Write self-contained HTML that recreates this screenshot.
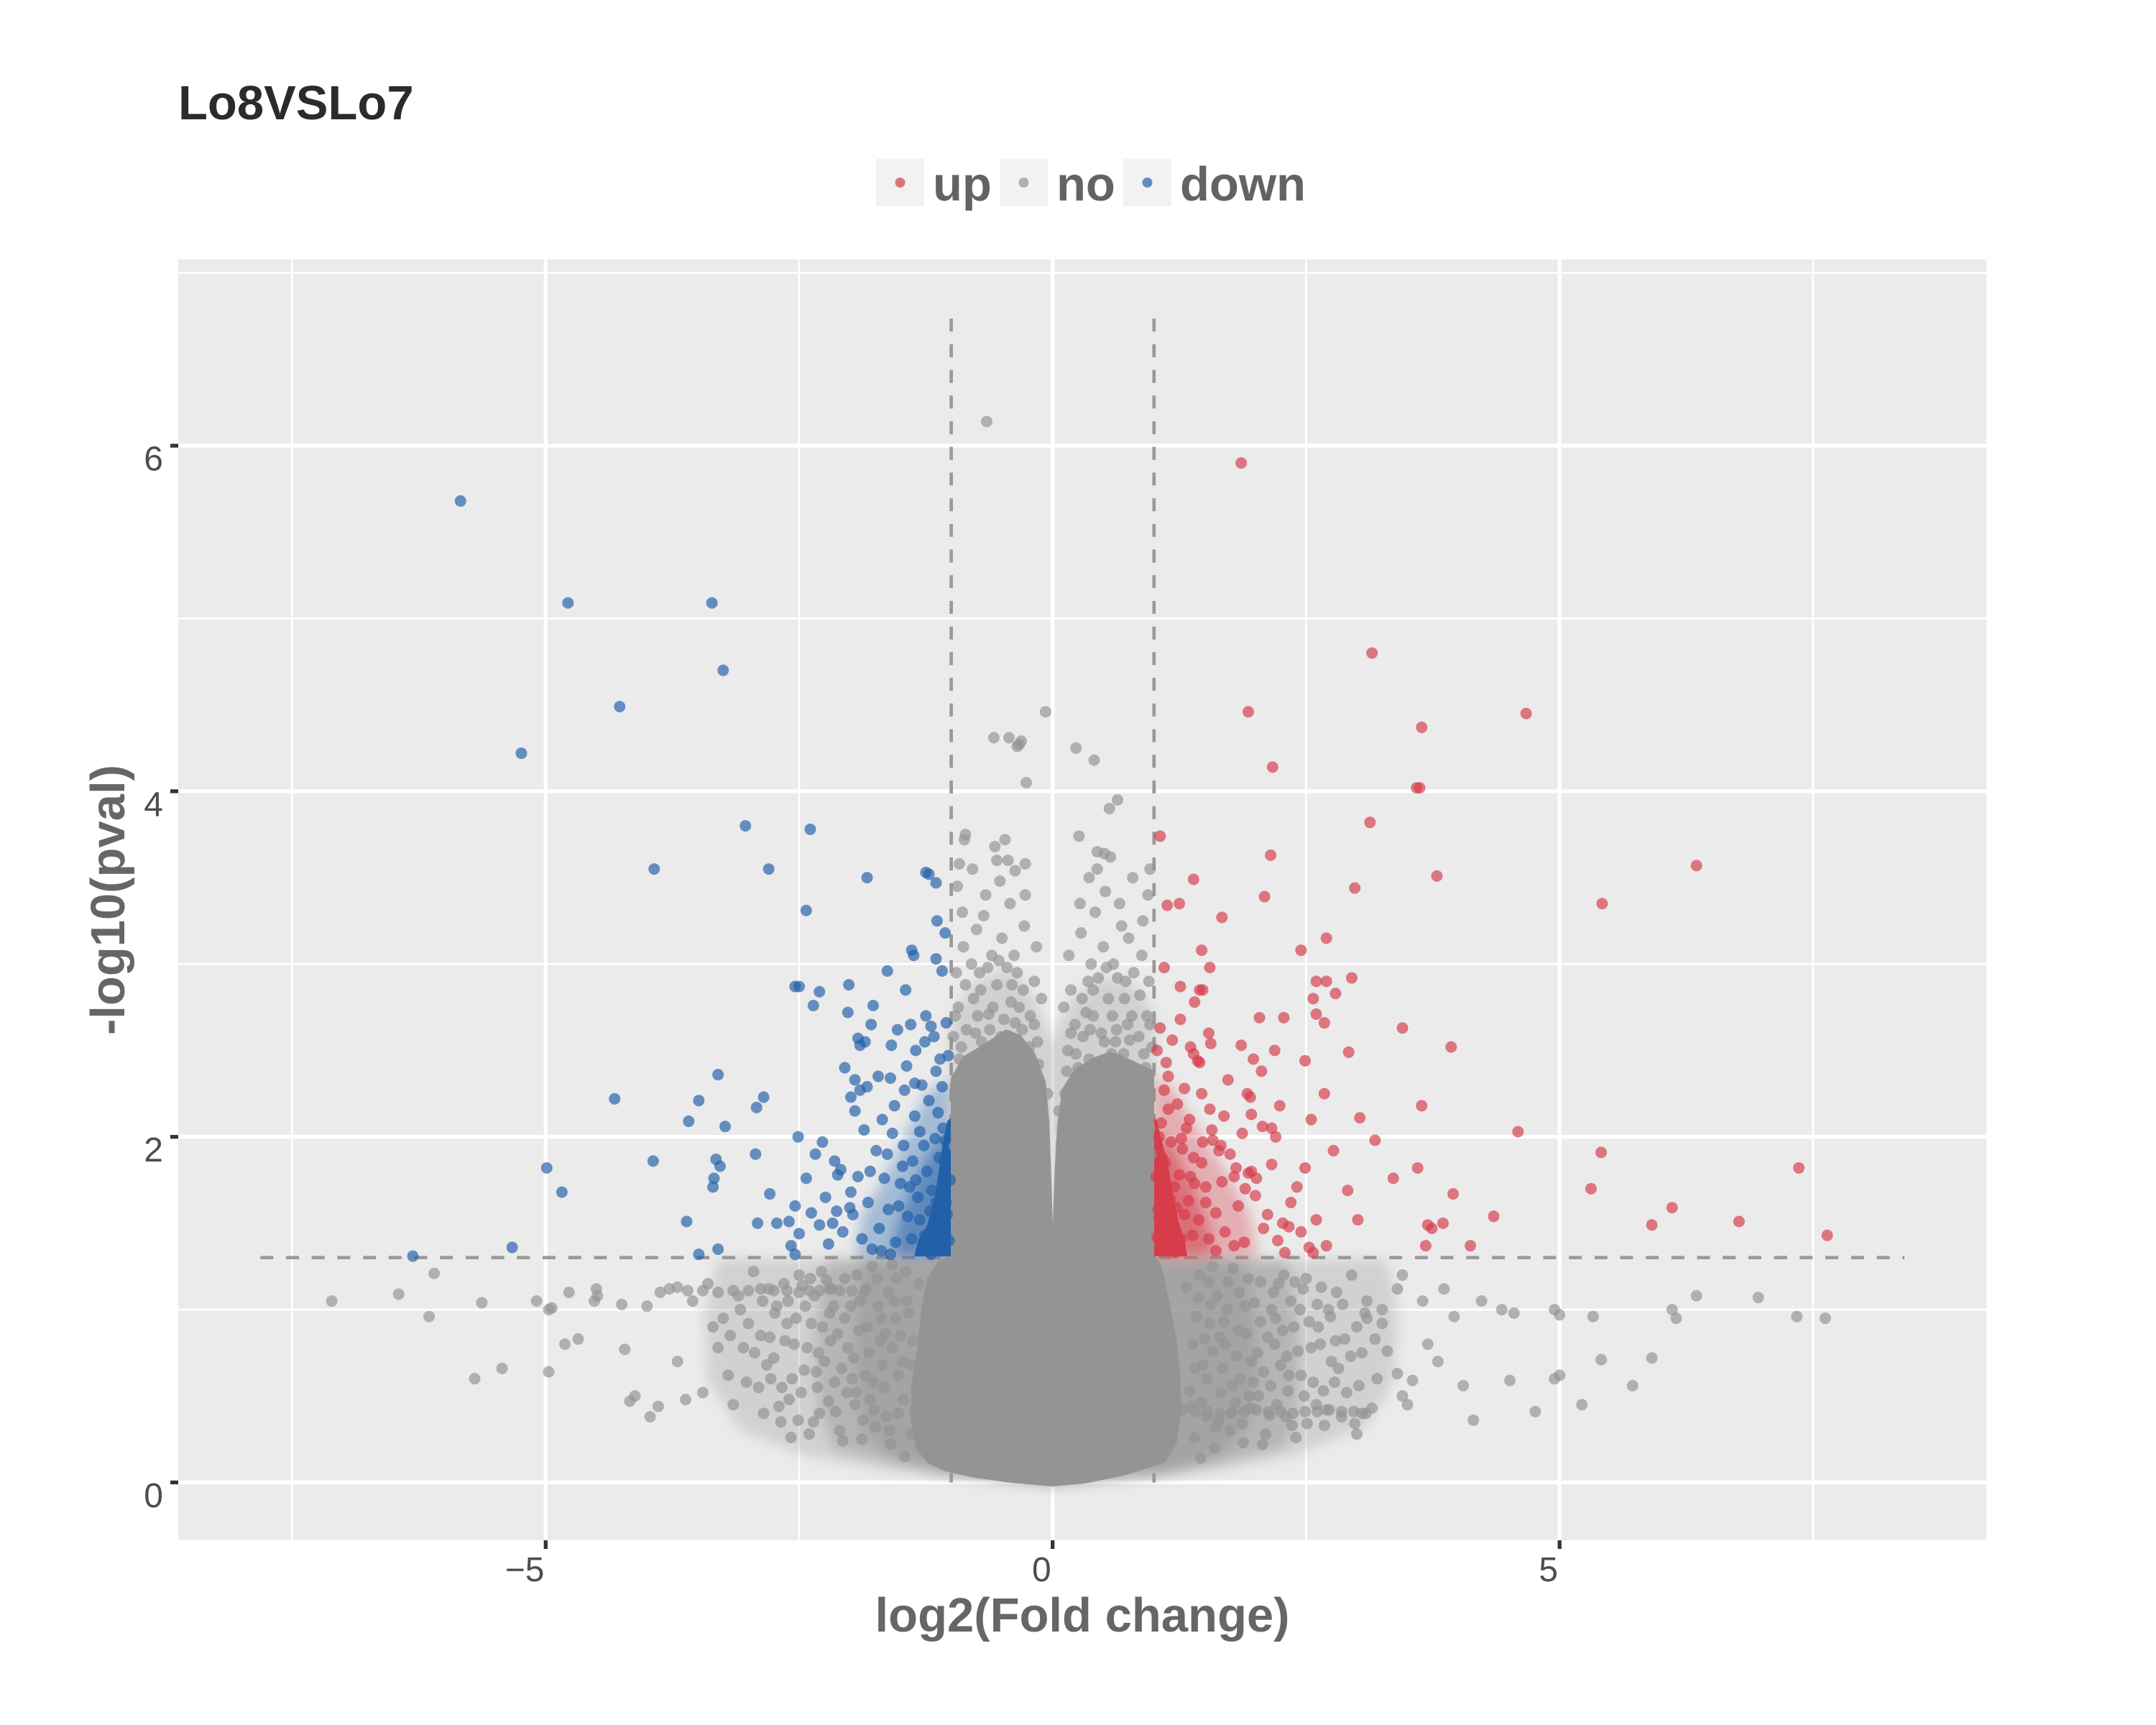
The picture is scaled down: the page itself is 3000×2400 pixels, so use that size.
<!DOCTYPE html>
<html>
<head>
<meta charset="utf-8">
<style>
html,body{margin:0;padding:0;background:#ffffff;}
svg{display:block;font-family:"Liberation Sans",Arial,Helvetica,sans-serif;}
</style>
</head>
<body>
<svg xmlns="http://www.w3.org/2000/svg" xmlns:xlink="http://www.w3.org/1999/xlink" width="3000" height="2400" viewBox="0 0 3000 2400">
<defs>
  <ellipse id="p" cx="0" cy="0" rx="0.0567" ry="0.0333"/>
  <filter id="bl" x="-20%" y="-20%" width="140%" height="140%"><feGaussianBlur stdDeviation="9"/></filter>
</defs>
<rect x="0" y="0" width="3000" height="2400" fill="#ffffff"/>

<!-- Title -->
<text x="248" y="166" font-size="67" font-weight="bold" fill="#2b2b2b">Lo8VSLo7</text>

<!-- Legend -->
<g>
  <rect x="1219" y="221" width="67" height="66" fill="#f2f2f2"/>
  <rect x="1391" y="221" width="67" height="66" fill="#f2f2f2"/>
  <rect x="1563" y="221" width="67" height="66" fill="#f2f2f2"/>
  <circle cx="1252.5" cy="254" r="7" fill="#d63c4a" fill-opacity=".7"/>
  <circle cx="1424.5" cy="254" r="7" fill="#949494" fill-opacity=".7"/>
  <circle cx="1596.5" cy="254" r="7" fill="#2360aa" fill-opacity=".7"/>
  <text x="1298" y="279" font-size="67" font-weight="bold" fill="#636363">up</text>
  <text x="1470" y="279" font-size="67" font-weight="bold" fill="#636363">no</text>
  <text x="1642" y="279" font-size="67" font-weight="bold" fill="#636363">down</text>
</g>

<!-- Panel -->
<rect x="248" y="361" width="2516" height="1782" fill="#ebebeb"/>

<!-- Minor gridlines -->
<g stroke="#ffffff" stroke-width="2.7">
  <line x1="406.6" y1="361" x2="406.6" y2="2143"/>
  <line x1="1112" y1="361" x2="1112" y2="2143"/>
  <line x1="1817.4" y1="361" x2="1817.4" y2="2143"/>
  <line x1="2522.8" y1="361" x2="2522.8" y2="2143"/>
  <line x1="248" y1="1822.1" x2="2764" y2="1822.1"/>
  <line x1="248" y1="1341.3" x2="2764" y2="1341.3"/>
  <line x1="248" y1="860.5" x2="2764" y2="860.5"/>
  <line x1="248" y1="379.7" x2="2764" y2="379.7"/>
</g>
<!-- Major gridlines -->
<g stroke="#ffffff" stroke-width="5.3">
  <line x1="759.3" y1="361" x2="759.3" y2="2143"/>
  <line x1="1464.7" y1="361" x2="1464.7" y2="2143"/>
  <line x1="2170.1" y1="361" x2="2170.1" y2="2143"/>
  <line x1="248" y1="2062.5" x2="2764" y2="2062.5"/>
  <line x1="248" y1="1581.7" x2="2764" y2="1581.7"/>
  <line x1="248" y1="1100.9" x2="2764" y2="1100.9"/>
  <line x1="248" y1="620.1" x2="2764" y2="620.1"/>
</g>

<!-- Dashed threshold lines -->
<g stroke="#999999" stroke-width="4.7" stroke-dasharray="18 17.7" fill="none">
  <line x1="1323.6" y1="443.3" x2="1323.6" y2="2062.5"/>
  <line x1="1605.8" y1="443.3" x2="1605.8" y2="2062.5"/>
  <line x1="362.3" y1="1749.7" x2="2650" y2="1749.7"/>
</g>

<!-- Haze (density of overlapping points) -->
<g filter="url(#bl)">
<polygon fill="#949494" fill-opacity="0.3" points="999,1752 1930,1752 1945,1830 1940,1920 1900,1985 1800,2025 1700,2045 1464,2066 1230,2045 1120,2025 1030,1990 985,1920 980,1830"/>
<polygon fill="#949494" fill-opacity="0.45" points="1150,1752 1790,1752 1800,1800 1808,1880 1805,1960 1790,2012 1700,2035 1620,2052 1464,2066 1310,2050 1230,2032 1160,2015 1140,1960 1135,1880 1140,1800"/>
<polygon fill="#949494" fill-opacity="0.5" points="1200,1752 1730,1752 1745,1820 1750,1900 1740,1975 1700,2025 1620,2050 1464,2066 1310,2050 1240,2028 1200,1990 1188,1900 1190,1820"/>
<polygon fill="#949494" fill-opacity="0.3" points="1323,1745 1323,1420 1350,1370 1405,1345 1440,1390 1464,1450 1490,1390 1530,1360 1580,1370 1606,1410 1606,1745"/>
<polygon fill="#2360aa" fill-opacity="0.35" points="1323,1750 1190,1750 1200,1690 1230,1640 1260,1580 1290,1520 1323,1500"/>
<polygon fill="#2360aa" fill-opacity="0.55" points="1323,1750 1240,1750 1250,1700 1270,1650 1295,1600 1323,1570"/>
<polygon fill="#d63c4a" fill-opacity="0.35" points="1606,1750 1750,1750 1740,1690 1700,1620 1660,1560 1630,1510 1606,1500"/>
<polygon fill="#d63c4a" fill-opacity="0.55" points="1606,1750 1690,1750 1680,1700 1660,1650 1635,1600 1606,1570"/>
</g>

<!-- Dense solid cores -->
<polygon fill="#949494" points="1323,1745 1323,1500 1340,1470 1370,1452 1400,1432 1420,1440 1440,1465 1455,1505 1460,1560 1463,1640 1465,1705 1467,1640 1471,1565 1478,1515 1495,1488 1520,1472 1545,1463 1575,1475 1606,1490 1606,1745 1616,1760 1627,1810 1637,1861 1642,1912 1644,1963 1637,2009 1621,2035 1560,2054 1509,2064 1464,2068 1407,2063 1356,2056 1315,2047 1290,2035 1274,2014 1267,1973 1269,1922 1277,1871 1282,1820 1290,1780 1305,1755 1319,1748"/>
<polygon fill="#2360aa" points="1323,1748 1272,1748 1278,1725 1290,1705 1300,1670 1306,1630 1312,1590 1318,1560 1323,1555"/>
<polygon fill="#d63c4a" points="1606,1748 1652,1748 1648,1725 1640,1700 1632,1660 1625,1620 1616,1585 1610,1560 1606,1555"/>

<!-- Data points (data coordinates) -->
<g transform="matrix(141.08,0,0,-240.4,1464.7,2062.5)">
 <!-- gray -->
 <g fill="#949494" fill-opacity="0.68">
  <use href="#p" x="-0.65" y="6.14"/><use href="#p" x="-0.07" y="4.46"/><use href="#p" x="-0.58" y="4.31"/><use href="#p" x="-0.43" y="4.31"/><use href="#p" x="-0.35" y="4.26"/><use href="#p" x="-0.31" y="4.29"/><use href="#p" x="-0.33" y="4.27"/><use href="#p" x="0.23" y="4.25"/><use href="#p" x="0.41" y="4.18"/><use href="#p" x="-0.26" y="4.05"/><use href="#p" x="0.56" y="3.90"/><use href="#p" x="0.64" y="3.95"/><use href="#p" x="-0.86" y="3.75"/><use href="#p" x="-0.47" y="3.72"/><use href="#p" x="-0.87" y="3.72"/><use href="#p" x="0.26" y="3.74"/><use href="#p" x="0.44" y="3.65"/><use href="#p" x="0.51" y="3.64"/><use href="#p" x="-0.92" y="3.58"/><use href="#p" x="-0.27" y="3.58"/><use href="#p" x="-0.37" y="3.54"/><use href="#p" x="0.96" y="3.55"/><use href="#p" x="-0.55" y="3.60"/><use href="#p" x="0.36" y="3.50"/>
  <use href="#p" x="-0.92" y="2.45"/><use href="#p" x="-0.85" y="2.62"/><use href="#p" x="-0.78" y="2.80"/><use href="#p" x="-0.70" y="2.55"/><use href="#p" x="-0.63" y="2.71"/><use href="#p" x="-0.95" y="2.95"/><use href="#p" x="-0.88" y="3.10"/><use href="#p" x="-0.55" y="2.88"/><use href="#p" x="-0.48" y="2.68"/><use href="#p" x="-0.41" y="2.78"/><use href="#p" x="-0.30" y="2.62"/><use href="#p" x="-0.22" y="2.70"/><use href="#p" x="-0.35" y="2.95"/><use href="#p" x="-0.60" y="3.05"/><use href="#p" x="-0.75" y="3.20"/><use href="#p" x="-0.50" y="3.15"/><use href="#p" x="-0.42" y="3.35"/><use href="#p" x="-0.66" y="3.40"/><use href="#p" x="-0.28" y="3.22"/><use href="#p" x="-0.18" y="2.90"/><use href="#p" x="-0.96" y="2.30"/><use href="#p" x="-0.90" y="2.18"/><use href="#p" x="-0.82" y="2.40"/><use href="#p" x="-0.72" y="2.95"/><use href="#p" x="-0.58" y="2.52"/><use href="#p" x="-0.25" y="2.45"/><use href="#p" x="-0.15" y="2.55"/><use href="#p" x="-0.12" y="2.30"/><use href="#p" x="-0.20" y="2.10"/><use href="#p" x="-0.38" y="3.05"/><use href="#p" x="-0.80" y="3.00"/><use href="#p" x="-0.93" y="2.75"/><use href="#p" x="-0.52" y="3.48"/><use href="#p" x="-0.68" y="3.28"/><use href="#p" x="-0.45" y="2.98"/><use href="#p" x="-0.33" y="2.75"/><use href="#p" x="-0.27" y="3.40"/><use href="#p" x="-0.62" y="2.62"/><use href="#p" x="-0.86" y="2.88"/><use href="#p" x="-0.98" y="2.58"/><use href="#p" x="-0.74" y="2.70"/><use href="#p" x="-0.44" y="3.60"/><use href="#p" x="-0.57" y="3.68"/><use href="#p" x="-0.89" y="3.30"/><use href="#p" x="-0.16" y="3.10"/><use href="#p" x="-0.11" y="2.80"/><use href="#p" x="-0.36" y="2.50"/><use href="#p" x="-0.94" y="3.45"/><use href="#p" x="-0.79" y="3.55"/><use href="#p" x="-0.64" y="2.98"/>
  <use href="#p" x="-0.90" y="2.52"/><use href="#p" x="-0.83" y="2.33"/><use href="#p" x="-0.76" y="2.60"/><use href="#p" x="-0.68" y="2.40"/><use href="#p" x="-0.59" y="2.75"/><use href="#p" x="-0.51" y="2.58"/><use href="#p" x="-0.44" y="2.44"/><use href="#p" x="-0.37" y="2.66"/><use href="#p" x="-0.29" y="2.85"/><use href="#p" x="-0.23" y="2.52"/><use href="#p" x="-0.96" y="2.70"/><use href="#p" x="-0.71" y="2.85"/><use href="#p" x="-0.53" y="3.02"/><use href="#p" x="-0.40" y="2.88"/><use href="#p" x="-0.18" y="2.65"/><use href="#p" x="-0.87" y="2.25"/><use href="#p" x="-0.65" y="2.50"/><use href="#p" x="-0.47" y="2.36"/><use href="#p" x="-0.31" y="2.40"/><use href="#p" x="-0.14" y="2.42"/>
  <use href="#p" x="0.92" y="2.40"/><use href="#p" x="0.85" y="2.58"/><use href="#p" x="0.78" y="2.70"/><use href="#p" x="0.70" y="2.48"/><use href="#p" x="0.63" y="2.62"/><use href="#p" x="0.95" y="2.90"/><use href="#p" x="0.88" y="3.05"/><use href="#p" x="0.55" y="2.80"/><use href="#p" x="0.48" y="2.60"/><use href="#p" x="0.40" y="2.70"/><use href="#p" x="0.30" y="2.58"/><use href="#p" x="0.22" y="2.65"/><use href="#p" x="0.35" y="2.90"/><use href="#p" x="0.60" y="3.00"/><use href="#p" x="0.75" y="3.15"/><use href="#p" x="0.50" y="3.10"/><use href="#p" x="0.42" y="3.30"/><use href="#p" x="0.66" y="3.35"/><use href="#p" x="0.28" y="3.18"/><use href="#p" x="0.18" y="2.85"/><use href="#p" x="0.96" y="2.25"/><use href="#p" x="0.90" y="2.12"/><use href="#p" x="0.82" y="2.35"/><use href="#p" x="0.72" y="2.90"/><use href="#p" x="0.58" y="2.48"/><use href="#p" x="0.25" y="2.40"/><use href="#p" x="0.15" y="2.50"/><use href="#p" x="0.12" y="2.25"/><use href="#p" x="0.20" y="2.05"/><use href="#p" x="0.38" y="3.00"/><use href="#p" x="0.80" y="2.95"/><use href="#p" x="0.93" y="2.70"/><use href="#p" x="0.52" y="3.42"/><use href="#p" x="0.68" y="3.22"/><use href="#p" x="0.45" y="2.92"/><use href="#p" x="0.33" y="2.72"/><use href="#p" x="0.27" y="3.35"/><use href="#p" x="0.62" y="2.55"/><use href="#p" x="0.86" y="2.82"/><use href="#p" x="0.98" y="2.52"/><use href="#p" x="0.74" y="2.65"/><use href="#p" x="0.44" y="3.55"/><use href="#p" x="0.57" y="3.62"/><use href="#p" x="0.89" y="3.25"/><use href="#p" x="0.16" y="3.05"/><use href="#p" x="0.11" y="2.75"/><use href="#p" x="0.36" y="2.45"/><use href="#p" x="0.94" y="3.40"/><use href="#p" x="0.79" y="3.50"/><use href="#p" x="0.64" y="2.92"/>
  <use href="#p" x="0.90" y="2.48"/><use href="#p" x="0.83" y="2.30"/><use href="#p" x="0.76" y="2.56"/><use href="#p" x="0.68" y="2.38"/><use href="#p" x="0.59" y="2.70"/><use href="#p" x="0.51" y="2.55"/><use href="#p" x="0.44" y="2.42"/><use href="#p" x="0.37" y="2.62"/><use href="#p" x="0.29" y="2.80"/><use href="#p" x="0.23" y="2.48"/><use href="#p" x="0.96" y="2.65"/><use href="#p" x="0.71" y="2.80"/><use href="#p" x="0.53" y="2.98"/><use href="#p" x="0.40" y="2.85"/><use href="#p" x="0.18" y="2.60"/><use href="#p" x="0.87" y="2.22"/><use href="#p" x="0.65" y="2.45"/><use href="#p" x="0.47" y="2.33"/><use href="#p" x="0.31" y="2.36"/><use href="#p" x="0.14" y="2.38"/>
  <use href="#p" x="-0.97" y="1.95"/><use href="#p" x="-0.95" y="2.10"/><use href="#p" x="0.97" y="1.90"/><use href="#p" x="0.96" y="2.05"/><use href="#p" x="-0.05" y="2.25"/><use href="#p" x="0.06" y="2.15"/>
  <use href="#p" x="-7.11" y="1.05"/><use href="#p" x="-6.45" y="1.09"/><use href="#p" x="-6.10" y="1.21"/><use href="#p" x="-6.15" y="0.96"/><use href="#p" x="-5.63" y="1.04"/><use href="#p" x="-5.70" y="0.60"/><use href="#p" x="-5.43" y="0.66"/><use href="#p" x="-5.09" y="1.05"/><use href="#p" x="-4.97" y="0.64"/><use href="#p" x="-4.97" y="1.00"/><use href="#p" x="-4.94" y="1.01"/><use href="#p" x="-4.77" y="1.10"/><use href="#p" x="-4.81" y="0.80"/><use href="#p" x="-4.68" y="0.83"/><use href="#p" x="-4.52" y="1.05"/><use href="#p" x="-4.49" y="1.08"/><use href="#p" x="-4.50" y="1.12"/><use href="#p" x="-4.25" y="1.03"/><use href="#p" x="-4.22" y="0.77"/><use href="#p" x="-4.17" y="0.47"/><use href="#p" x="-4.12" y="0.50"/><use href="#p" x="-3.97" y="0.38"/><use href="#p" x="-3.89" y="0.44"/><use href="#p" x="-4.00" y="1.02"/><use href="#p" x="-3.87" y="1.10"/><use href="#p" x="-3.78" y="1.12"/><use href="#p" x="-3.70" y="1.13"/>
  <use href="#p" x="7.62" y="0.95"/><use href="#p" x="7.34" y="0.96"/><use href="#p" x="6.96" y="1.07"/><use href="#p" x="6.35" y="1.08"/><use href="#p" x="6.15" y="0.95"/><use href="#p" x="6.11" y="1.00"/><use href="#p" x="5.91" y="0.72"/><use href="#p" x="5.72" y="0.56"/><use href="#p" x="5.41" y="0.71"/><use href="#p" x="5.33" y="0.96"/><use href="#p" x="5.22" y="0.45"/><use href="#p" x="5.00" y="0.97"/><use href="#p" x="4.95" y="1.00"/><use href="#p" x="5.00" y="0.62"/><use href="#p" x="4.95" y="0.60"/><use href="#p" x="4.76" y="0.41"/><use href="#p" x="4.51" y="0.59"/><use href="#p" x="4.55" y="0.98"/><use href="#p" x="4.43" y="1.00"/><use href="#p" x="4.23" y="1.05"/><use href="#p" x="4.15" y="0.36"/><use href="#p" x="4.05" y="0.56"/><use href="#p" x="3.96" y="0.96"/><use href="#p" x="3.86" y="1.12"/><use href="#p" x="3.80" y="0.70"/><use href="#p" x="3.70" y="0.80"/><use href="#p" x="3.65" y="1.05"/><use href="#p" x="3.55" y="0.59"/><use href="#p" x="3.50" y="0.45"/><use href="#p" x="3.40" y="0.63"/><use href="#p" x="3.45" y="1.20"/><use href="#p" x="3.25" y="1.00"/><use href="#p" x="3.10" y="0.95"/><use href="#p" x="3.05" y="0.40"/><use href="#p" x="3.00" y="0.28"/><use href="#p" x="2.98" y="0.34"/>
  <use href="#p" x="-1.45" y="1.22"/><use href="#p" x="-1.62" y="1.10"/><use href="#p" x="-1.78" y="1.25"/><use href="#p" x="-1.55" y="0.95"/><use href="#p" x="-1.70" y="0.82"/><use href="#p" x="-1.90" y="1.05"/><use href="#p" x="-2.05" y="1.18"/><use href="#p" x="-2.20" y="0.98"/><use href="#p" x="-1.48" y="0.70"/><use href="#p" x="-1.66" y="0.55"/><use href="#p" x="-1.85" y="0.62"/><use href="#p" x="-2.02" y="0.78"/><use href="#p" x="-2.35" y="1.08"/><use href="#p" x="-2.50" y="1.20"/><use href="#p" x="-2.62" y="0.92"/><use href="#p" x="-2.80" y="1.12"/><use href="#p" x="-2.95" y="1.22"/><use href="#p" x="-3.10" y="1.08"/><use href="#p" x="-3.25" y="0.95"/><use href="#p" x="-3.40" y="1.15"/><use href="#p" x="-1.52" y="0.40"/><use href="#p" x="-1.75" y="0.32"/><use href="#p" x="-1.95" y="0.45"/><use href="#p" x="-2.15" y="0.58"/><use href="#p" x="-2.30" y="0.40"/><use href="#p" x="-2.45" y="0.65"/><use href="#p" x="-2.60" y="0.48"/><use href="#p" x="-2.75" y="0.72"/><use href="#p" x="-2.90" y="0.55"/><use href="#p" x="-3.05" y="0.78"/><use href="#p" x="-3.20" y="0.62"/><use href="#p" x="-1.40" y="0.28"/><use href="#p" x="-1.60" y="0.22"/><use href="#p" x="-1.88" y="0.25"/><use href="#p" x="-2.10" y="0.30"/><use href="#p" x="-2.40" y="0.28"/><use href="#p" x="-2.68" y="0.35"/><use href="#p" x="-1.58" y="1.26"/><use href="#p" x="-1.83" y="0.90"/><use href="#p" x="-2.12" y="0.86"/><use href="#p" x="-2.28" y="1.22"/><use href="#p" x="-2.55" y="0.80"/><use href="#p" x="-2.72" y="1.02"/><use href="#p" x="-3.00" y="0.92"/><use href="#p" x="-3.30" y="0.78"/><use href="#p" x="-1.42" y="0.98"/><use href="#p" x="-1.68" y="0.68"/><use href="#p" x="-1.98" y="0.60"/><use href="#p" x="-2.25" y="0.70"/><use href="#p" x="-2.48" y="0.52"/><use href="#p" x="-2.85" y="0.40"/><use href="#p" x="-3.15" y="0.45"/><use href="#p" x="-3.45" y="0.52"/><use href="#p" x="-1.35" y="0.55"/><use href="#p" x="-1.50" y="0.85"/><use href="#p" x="-1.72" y="1.02"/><use href="#p" x="-1.93" y="1.20"/><use href="#p" x="-2.18" y="1.12"/><use href="#p" x="-2.38" y="0.92"/><use href="#p" x="-2.65" y="1.15"/><use href="#p" x="-2.88" y="0.85"/><use href="#p" x="-1.46" y="0.15"/><use href="#p" x="-1.80" y="0.48"/><use href="#p" x="-2.05" y="0.95"/><use href="#p" x="-2.32" y="0.55"/><use href="#p" x="-2.58" y="0.26"/><use href="#p" x="-1.64" y="0.38"/><use href="#p" x="-1.38" y="0.82"/><use href="#p" x="-1.56" y="1.05"/><use href="#p" x="-1.96" y="0.72"/><use href="#p" x="-2.44" y="1.02"/><use href="#p" x="-2.78" y="0.60"/><use href="#p" x="-3.35" y="0.90"/><use href="#p" x="-3.55" y="1.05"/><use href="#p" x="-3.70" y="0.70"/><use href="#p" x="-3.62" y="0.48"/>
  <use href="#p" x="-1.32" y="1.15"/><use href="#p" x="-1.36" y="0.42"/><use href="#p" x="-1.44" y="1.05"/><use href="#p" x="-1.52" y="0.62"/><use href="#p" x="-1.58" y="0.78"/><use href="#p" x="-1.61" y="0.30"/><use href="#p" x="-1.69" y="0.95"/><use href="#p" x="-1.73" y="1.18"/><use href="#p" x="-1.77" y="0.58"/><use href="#p" x="-1.81" y="0.75"/><use href="#p" x="-1.87" y="0.36"/><use href="#p" x="-1.91" y="0.88"/><use href="#p" x="-1.99" y="1.02"/><use href="#p" x="-2.03" y="0.52"/><use href="#p" x="-2.08" y="0.66"/><use href="#p" x="-2.14" y="0.41"/><use href="#p" x="-2.19" y="0.82"/><use href="#p" x="-2.23" y="1.17"/><use href="#p" x="-2.27" y="0.90"/><use href="#p" x="-2.33" y="0.64"/><use href="#p" x="-2.36" y="0.35"/><use href="#p" x="-2.42" y="0.78"/><use href="#p" x="-2.47" y="1.14"/><use href="#p" x="-2.53" y="0.95"/><use href="#p" x="-2.57" y="0.60"/><use href="#p" x="-2.64" y="0.82"/><use href="#p" x="-2.70" y="0.44"/><use href="#p" x="-2.74" y="0.98"/><use href="#p" x="-2.82" y="0.68"/><use href="#p" x="-2.86" y="1.05"/><use href="#p" x="-2.94" y="0.75"/><use href="#p" x="-3.02" y="0.58"/><use href="#p" x="-3.08" y="1.00"/><use href="#p" x="-3.18" y="0.85"/><use href="#p" x="-1.40" y="0.68"/><use href="#p" x="-1.47" y="0.48"/><use href="#p" x="-1.54" y="1.18"/><use href="#p" x="-1.65" y="0.86"/><use href="#p" x="-1.76" y="0.42"/><use href="#p" x="-1.84" y="1.12"/><use href="#p" x="-1.94" y="0.52"/><use href="#p" x="-2.07" y="0.24"/><use href="#p" x="-2.16" y="1.02"/><use href="#p" x="-2.21" y="0.47"/><use href="#p" x="-2.31" y="0.75"/><use href="#p" x="-2.39" y="1.18"/><use href="#p" x="-2.51" y="0.36"/><use href="#p" x="-2.61" y="1.05"/><use href="#p" x="-2.67" y="0.55"/><use href="#p" x="-2.79" y="0.84"/>
  <use href="#p" x="1.45" y="1.20"/><use href="#p" x="1.62" y="1.08"/><use href="#p" x="1.78" y="1.24"/><use href="#p" x="1.55" y="0.92"/><use href="#p" x="1.70" y="0.80"/><use href="#p" x="1.90" y="1.02"/><use href="#p" x="2.05" y="1.16"/><use href="#p" x="2.20" y="0.95"/><use href="#p" x="1.48" y="0.68"/><use href="#p" x="1.66" y="0.52"/><use href="#p" x="1.85" y="0.60"/><use href="#p" x="2.02" y="0.75"/><use href="#p" x="2.35" y="1.05"/><use href="#p" x="2.50" y="1.18"/><use href="#p" x="2.62" y="0.90"/><use href="#p" x="2.80" y="1.10"/><use href="#p" x="2.95" y="1.20"/><use href="#p" x="3.10" y="1.05"/><use href="#p" x="3.25" y="0.92"/><use href="#p" x="3.40" y="1.12"/><use href="#p" x="1.52" y="0.38"/><use href="#p" x="1.75" y="0.30"/><use href="#p" x="1.95" y="0.43"/><use href="#p" x="2.15" y="0.56"/><use href="#p" x="2.30" y="0.38"/><use href="#p" x="2.45" y="0.62"/><use href="#p" x="2.60" y="0.45"/><use href="#p" x="2.75" y="0.70"/><use href="#p" x="2.90" y="0.52"/><use href="#p" x="3.05" y="0.75"/><use href="#p" x="3.20" y="0.60"/><use href="#p" x="1.40" y="0.26"/><use href="#p" x="1.60" y="0.20"/><use href="#p" x="1.88" y="0.23"/><use href="#p" x="2.10" y="0.28"/><use href="#p" x="2.40" y="0.26"/><use href="#p" x="2.68" y="0.33"/><use href="#p" x="1.58" y="1.25"/><use href="#p" x="1.83" y="0.88"/><use href="#p" x="2.12" y="0.84"/><use href="#p" x="2.28" y="1.20"/><use href="#p" x="2.55" y="0.78"/><use href="#p" x="2.72" y="1.00"/><use href="#p" x="3.00" y="0.90"/><use href="#p" x="3.30" y="0.76"/><use href="#p" x="1.42" y="0.96"/><use href="#p" x="1.68" y="0.66"/><use href="#p" x="1.98" y="0.58"/><use href="#p" x="2.25" y="0.68"/><use href="#p" x="2.48" y="0.50"/><use href="#p" x="2.85" y="0.38"/><use href="#p" x="3.15" y="0.43"/><use href="#p" x="3.45" y="0.50"/><use href="#p" x="1.35" y="0.53"/><use href="#p" x="1.50" y="0.83"/><use href="#p" x="1.72" y="1.00"/><use href="#p" x="1.93" y="1.18"/><use href="#p" x="2.18" y="1.10"/><use href="#p" x="2.38" y="0.90"/><use href="#p" x="2.65" y="1.13"/><use href="#p" x="2.88" y="0.83"/><use href="#p" x="1.46" y="0.14"/><use href="#p" x="1.80" y="0.46"/><use href="#p" x="2.05" y="0.93"/><use href="#p" x="2.32" y="0.53"/><use href="#p" x="1.64" y="0.36"/><use href="#p" x="1.38" y="0.80"/><use href="#p" x="1.56" y="1.03"/><use href="#p" x="1.96" y="0.70"/><use href="#p" x="2.44" y="1.00"/><use href="#p" x="2.78" y="0.58"/>
  <use href="#p" x="1.32" y="1.13"/><use href="#p" x="1.36" y="0.44"/><use href="#p" x="1.44" y="1.07"/><use href="#p" x="1.52" y="0.60"/><use href="#p" x="1.58" y="0.76"/><use href="#p" x="1.61" y="0.32"/><use href="#p" x="1.69" y="0.93"/><use href="#p" x="1.73" y="1.16"/><use href="#p" x="1.77" y="0.56"/><use href="#p" x="1.81" y="0.73"/><use href="#p" x="1.87" y="0.34"/><use href="#p" x="1.91" y="0.86"/><use href="#p" x="1.99" y="1.04"/><use href="#p" x="2.03" y="0.50"/><use href="#p" x="2.08" y="0.64"/><use href="#p" x="2.14" y="0.39"/><use href="#p" x="2.19" y="0.80"/><use href="#p" x="2.23" y="1.15"/><use href="#p" x="2.27" y="0.88"/><use href="#p" x="2.33" y="0.62"/><use href="#p" x="2.36" y="0.33"/><use href="#p" x="2.42" y="0.76"/><use href="#p" x="2.47" y="1.12"/><use href="#p" x="2.53" y="0.93"/><use href="#p" x="2.57" y="0.58"/><use href="#p" x="2.64" y="0.80"/><use href="#p" x="2.70" y="0.42"/><use href="#p" x="2.74" y="0.96"/><use href="#p" x="2.82" y="0.66"/><use href="#p" x="2.86" y="1.03"/><use href="#p" x="2.94" y="0.73"/><use href="#p" x="3.02" y="0.56"/><use href="#p" x="3.08" y="0.98"/><use href="#p" x="3.18" y="0.83"/><use href="#p" x="1.40" y="0.66"/><use href="#p" x="1.47" y="0.46"/><use href="#p" x="1.54" y="1.16"/><use href="#p" x="1.65" y="0.84"/><use href="#p" x="1.76" y="0.40"/><use href="#p" x="1.84" y="1.10"/><use href="#p" x="1.94" y="0.50"/><use href="#p" x="2.07" y="0.22"/><use href="#p" x="2.16" y="1.00"/><use href="#p" x="2.21" y="0.45"/><use href="#p" x="2.31" y="0.73"/><use href="#p" x="2.39" y="1.16"/><use href="#p" x="2.51" y="0.34"/><use href="#p" x="2.61" y="1.03"/><use href="#p" x="2.67" y="0.53"/><use href="#p" x="2.79" y="0.82"/>
  <use href="#p" x="-3.60" y="1.11"/><use href="#p" x="-3.45" y="1.11"/><use href="#p" x="-3.30" y="1.10"/><use href="#p" x="-3.15" y="1.11"/><use href="#p" x="-3.00" y="1.11"/><use href="#p" x="-2.88" y="1.12"/><use href="#p" x="-2.75" y="1.11"/><use href="#p" x="-2.62" y="1.11"/><use href="#p" x="-2.50" y="1.10"/><use href="#p" x="-2.40" y="1.11"/><use href="#p" x="-2.30" y="1.11"/><use href="#p" x="-2.20" y="1.12"/><use href="#p" x="-2.10" y="1.11"/><use href="#p" x="-1.98" y="1.11"/><use href="#p" x="-1.86" y="1.10"/>
  <use href="#p" x="1.05" y="0.41"/><use href="#p" x="1.17" y="0.41"/><use href="#p" x="1.29" y="0.42"/><use href="#p" x="1.41" y="0.41"/><use href="#p" x="1.53" y="0.41"/><use href="#p" x="1.65" y="0.40"/><use href="#p" x="1.77" y="0.41"/><use href="#p" x="1.89" y="0.41"/><use href="#p" x="2.01" y="0.42"/><use href="#p" x="2.13" y="0.41"/><use href="#p" x="2.25" y="0.41"/><use href="#p" x="2.37" y="0.40"/><use href="#p" x="2.49" y="0.41"/><use href="#p" x="2.61" y="0.41"/><use href="#p" x="2.73" y="0.42"/><use href="#p" x="2.85" y="0.41"/><use href="#p" x="2.97" y="0.41"/><use href="#p" x="3.09" y="0.40"/>
 </g>
 <!-- blue -->
 <g fill="#2360aa" fill-opacity="0.68">
  <use href="#p" x="-5.84" y="5.68"/><use href="#p" x="-4.78" y="5.09"/><use href="#p" x="-3.36" y="5.09"/><use href="#p" x="-3.25" y="4.70"/><use href="#p" x="-4.27" y="4.49"/><use href="#p" x="-5.24" y="4.22"/><use href="#p" x="-3.03" y="3.80"/><use href="#p" x="-2.39" y="3.78"/><use href="#p" x="-3.93" y="3.55"/><use href="#p" x="-2.80" y="3.55"/><use href="#p" x="-1.83" y="3.50"/><use href="#p" x="-1.25" y="3.53"/><use href="#p" x="-1.22" y="3.52"/><use href="#p" x="-1.15" y="3.47"/><use href="#p" x="-2.43" y="3.31"/><use href="#p" x="-1.14" y="3.25"/><use href="#p" x="-1.06" y="3.18"/><use href="#p" x="-1.39" y="3.08"/><use href="#p" x="-1.37" y="3.05"/><use href="#p" x="-1.63" y="2.96"/><use href="#p" x="-1.15" y="3.03"/><use href="#p" x="-1.09" y="2.96"/><use href="#p" x="-2.54" y="2.87"/><use href="#p" x="-2.50" y="2.87"/><use href="#p" x="-2.01" y="2.88"/><use href="#p" x="-1.45" y="2.85"/><use href="#p" x="-2.30" y="2.84"/><use href="#p" x="-2.36" y="2.76"/><use href="#p" x="-1.77" y="2.76"/><use href="#p" x="-2.02" y="2.72"/><use href="#p" x="-1.79" y="2.65"/><use href="#p" x="-1.40" y="2.65"/><use href="#p" x="-1.20" y="2.64"/><use href="#p" x="-1.92" y="2.57"/><use href="#p" x="-1.90" y="2.53"/><use href="#p" x="-1.59" y="2.53"/><use href="#p" x="-1.26" y="2.55"/><use href="#p" x="-3.30" y="2.36"/><use href="#p" x="-4.32" y="2.22"/><use href="#p" x="-3.49" y="2.21"/><use href="#p" x="-2.85" y="2.23"/><use href="#p" x="-2.92" y="2.17"/><use href="#p" x="-1.95" y="2.33"/><use href="#p" x="-1.83" y="2.29"/><use href="#p" x="-1.99" y="2.23"/><use href="#p" x="-1.90" y="2.27"/><use href="#p" x="-1.60" y="2.34"/><use href="#p" x="-1.36" y="2.31"/><use href="#p" x="-3.59" y="2.09"/><use href="#p" x="-3.23" y="2.06"/><use href="#p" x="-2.51" y="2.00"/><use href="#p" x="-2.27" y="1.97"/><use href="#p" x="-2.34" y="1.90"/><use href="#p" x="-2.93" y="1.90"/><use href="#p" x="-3.32" y="1.87"/><use href="#p" x="-3.28" y="1.83"/><use href="#p" x="-3.94" y="1.86"/><use href="#p" x="-4.99" y="1.82"/><use href="#p" x="-2.09" y="1.81"/><use href="#p" x="-2.12" y="1.78"/><use href="#p" x="-2.43" y="1.76"/><use href="#p" x="-3.34" y="1.76"/><use href="#p" x="-3.35" y="1.71"/><use href="#p" x="-4.84" y="1.68"/><use href="#p" x="-2.79" y="1.67"/><use href="#p" x="-2.24" y="1.65"/><use href="#p" x="-2.54" y="1.60"/><use href="#p" x="-2.00" y="1.59"/><use href="#p" x="-1.97" y="1.55"/><use href="#p" x="-2.38" y="1.56"/><use href="#p" x="-2.60" y="1.51"/><use href="#p" x="-2.91" y="1.50"/><use href="#p" x="-3.61" y="1.51"/><use href="#p" x="-2.72" y="1.50"/><use href="#p" x="-2.30" y="1.49"/><use href="#p" x="-2.13" y="1.57"/><use href="#p" x="-2.17" y="1.50"/><use href="#p" x="-2.50" y="1.44"/><use href="#p" x="-2.54" y="1.32"/><use href="#p" x="-2.58" y="1.37"/><use href="#p" x="-5.33" y="1.36"/><use href="#p" x="-3.49" y="1.32"/><use href="#p" x="-3.30" y="1.35"/><use href="#p" x="-6.31" y="1.31"/><use href="#p" x="-1.69" y="1.34"/>
  <use href="#p" x="-1.05" y="1.62"/><use href="#p" x="-1.12" y="1.88"/><use href="#p" x="-1.18" y="1.45"/><use href="#p" x="-1.31" y="1.52"/><use href="#p" x="-1.08" y="2.05"/><use href="#p" x="-1.22" y="2.21"/><use href="#p" x="-1.41" y="1.71"/><use href="#p" x="-1.55" y="1.39"/><use href="#p" x="-1.62" y="1.58"/><use href="#p" x="-1.15" y="2.38"/><use href="#p" x="-1.03" y="2.47"/><use href="#p" x="-1.27" y="1.95"/><use href="#p" x="-1.48" y="1.83"/><use href="#p" x="-1.71" y="1.47"/><use href="#p" x="-1.36" y="2.12"/><use href="#p" x="-1.10" y="1.35"/><use href="#p" x="-1.19" y="1.69"/><use href="#p" x="-1.58" y="2.02"/><use href="#p" x="-1.66" y="1.76"/><use href="#p" x="-1.82" y="1.62"/><use href="#p" x="-1.44" y="2.41"/><use href="#p" x="-1.29" y="2.30"/><use href="#p" x="-1.06" y="1.98"/><use href="#p" x="-1.13" y="2.14"/><use href="#p" x="-1.74" y="1.92"/><use href="#p" x="-1.52" y="1.60"/><use href="#p" x="-1.88" y="1.41"/><use href="#p" x="-1.39" y="1.41"/><use href="#p" x="-1.24" y="1.80"/><use href="#p" x="-1.01" y="1.75"/><use href="#p" x="-1.09" y="2.29"/><use href="#p" x="-1.33" y="1.65"/><use href="#p" x="-1.47" y="1.95"/><use href="#p" x="-1.60" y="1.32"/><use href="#p" x="-1.78" y="1.35"/><use href="#p" x="-1.92" y="1.77"/><use href="#p" x="-1.17" y="2.58"/><use href="#p" x="-1.35" y="2.50"/><use href="#p" x="-1.56" y="2.18"/><use href="#p" x="-1.05" y="2.66"/><use href="#p" x="-1.21" y="1.57"/><use href="#p" x="-1.43" y="1.54"/><use href="#p" x="-1.68" y="2.10"/><use href="#p" x="-1.86" y="2.04"/><use href="#p" x="-1.99" y="1.68"/><use href="#p" x="-2.07" y="1.45"/><use href="#p" x="-1.12" y="1.52"/><use href="#p" x="-1.26" y="1.43"/><use href="#p" x="-1.02" y="1.40"/><use href="#p" x="-1.16" y="1.99"/><use href="#p" x="-1.38" y="1.86"/><use href="#p" x="-1.50" y="1.73"/><use href="#p" x="-1.63" y="1.90"/><use href="#p" x="-1.80" y="1.80"/><use href="#p" x="-2.15" y="1.86"/><use href="#p" x="-2.21" y="1.38"/><use href="#p" x="-1.95" y="2.15"/><use href="#p" x="-1.07" y="1.86"/><use href="#p" x="-1.31" y="2.03"/><use href="#p" x="-1.11" y="2.45"/><use href="#p" x="-1.46" y="2.27"/><use href="#p" x="-1.72" y="2.35"/><use href="#p" x="-2.05" y="2.40"/><use href="#p" x="-1.25" y="2.70"/><use href="#p" x="-1.53" y="2.62"/><use href="#p" x="-1.85" y="2.55"/><use href="#p" x="-1.15" y="1.62"/><use href="#p" x="-1.35" y="1.75"/><use href="#p" x="-1.04" y="1.55"/><use href="#p" x="-1.20" y="1.32"/>
 </g>
 <!-- red -->
 <g fill="#d63c4a" fill-opacity="0.68">
  <use href="#p" x="1.86" y="5.90"/><use href="#p" x="3.15" y="4.80"/><use href="#p" x="1.93" y="4.46"/><use href="#p" x="4.67" y="4.45"/><use href="#p" x="3.64" y="4.37"/><use href="#p" x="2.17" y="4.14"/><use href="#p" x="3.59" y="4.02"/><use href="#p" x="3.62" y="4.02"/><use href="#p" x="3.13" y="3.82"/><use href="#p" x="1.06" y="3.74"/><use href="#p" x="2.15" y="3.63"/><use href="#p" x="6.35" y="3.57"/><use href="#p" x="3.79" y="3.51"/><use href="#p" x="1.39" y="3.49"/><use href="#p" x="2.98" y="3.44"/><use href="#p" x="2.09" y="3.39"/><use href="#p" x="1.25" y="3.35"/><use href="#p" x="1.13" y="3.34"/><use href="#p" x="5.42" y="3.35"/><use href="#p" x="1.67" y="3.27"/><use href="#p" x="2.70" y="3.15"/><use href="#p" x="1.47" y="3.08"/><use href="#p" x="2.45" y="3.08"/><use href="#p" x="1.55" y="2.98"/><use href="#p" x="1.10" y="2.98"/><use href="#p" x="2.95" y="2.92"/><use href="#p" x="2.60" y="2.90"/><use href="#p" x="2.70" y="2.90"/><use href="#p" x="1.45" y="2.85"/><use href="#p" x="1.48" y="2.85"/><use href="#p" x="2.79" y="2.83"/><use href="#p" x="1.26" y="2.87"/><use href="#p" x="1.40" y="2.78"/><use href="#p" x="2.57" y="2.80"/><use href="#p" x="2.28" y="2.69"/><use href="#p" x="2.04" y="2.69"/><use href="#p" x="2.60" y="2.71"/><use href="#p" x="2.68" y="2.66"/><use href="#p" x="3.45" y="2.63"/><use href="#p" x="1.56" y="2.54"/><use href="#p" x="3.93" y="2.52"/><use href="#p" x="2.19" y="2.50"/><use href="#p" x="2.92" y="2.49"/><use href="#p" x="1.39" y="2.48"/><use href="#p" x="1.43" y="2.44"/><use href="#p" x="1.98" y="2.45"/><use href="#p" x="2.49" y="2.44"/><use href="#p" x="2.68" y="2.25"/><use href="#p" x="1.92" y="2.25"/><use href="#p" x="1.95" y="2.23"/><use href="#p" x="2.24" y="2.18"/><use href="#p" x="3.64" y="2.18"/><use href="#p" x="2.55" y="2.10"/><use href="#p" x="2.07" y="2.06"/><use href="#p" x="2.16" y="2.05"/><use href="#p" x="3.03" y="2.11"/><use href="#p" x="4.59" y="2.03"/><use href="#p" x="1.58" y="1.98"/><use href="#p" x="1.66" y="1.95"/><use href="#p" x="1.27" y="1.99"/><use href="#p" x="3.18" y="1.98"/><use href="#p" x="2.77" y="1.92"/><use href="#p" x="5.41" y="1.91"/><use href="#p" x="3.60" y="1.82"/><use href="#p" x="7.36" y="1.82"/><use href="#p" x="1.96" y="1.80"/><use href="#p" x="2.01" y="1.76"/><use href="#p" x="1.79" y="1.77"/><use href="#p" x="1.90" y="1.70"/><use href="#p" x="2.49" y="1.82"/><use href="#p" x="2.41" y="1.71"/><use href="#p" x="3.36" y="1.76"/><use href="#p" x="5.31" y="1.70"/><use href="#p" x="3.95" y="1.67"/><use href="#p" x="2.91" y="1.69"/><use href="#p" x="6.11" y="1.59"/><use href="#p" x="4.35" y="1.54"/><use href="#p" x="3.01" y="1.52"/><use href="#p" x="6.77" y="1.51"/><use href="#p" x="3.85" y="1.50"/><use href="#p" x="3.74" y="1.47"/><use href="#p" x="3.70" y="1.49"/><use href="#p" x="5.91" y="1.49"/><use href="#p" x="7.64" y="1.43"/><use href="#p" x="3.68" y="1.37"/><use href="#p" x="4.12" y="1.37"/><use href="#p" x="2.53" y="1.36"/><use href="#p" x="2.70" y="1.37"/><use href="#p" x="2.57" y="1.33"/><use href="#p" x="2.29" y="1.33"/><use href="#p" x="2.27" y="1.50"/><use href="#p" x="2.33" y="1.48"/>
  <use href="#p" x="1.04" y="1.58"/><use href="#p" x="1.11" y="1.85"/><use href="#p" x="1.17" y="1.47"/><use href="#p" x="1.30" y="1.55"/><use href="#p" x="1.07" y="2.08"/><use href="#p" x="1.23" y="2.19"/><use href="#p" x="1.40" y="1.73"/><use href="#p" x="1.54" y="1.41"/><use href="#p" x="1.61" y="1.56"/><use href="#p" x="1.14" y="2.35"/><use href="#p" x="1.03" y="2.50"/><use href="#p" x="1.28" y="1.93"/><use href="#p" x="1.47" y="1.85"/><use href="#p" x="1.70" y="1.45"/><use href="#p" x="1.35" y="2.10"/><use href="#p" x="1.09" y="1.36"/><use href="#p" x="1.20" y="1.71"/><use href="#p" x="1.57" y="2.04"/><use href="#p" x="1.67" y="1.74"/><use href="#p" x="1.83" y="1.60"/><use href="#p" x="1.45" y="2.43"/><use href="#p" x="1.30" y="2.28"/><use href="#p" x="1.05" y="2.00"/><use href="#p" x="1.14" y="2.16"/><use href="#p" x="1.75" y="1.90"/><use href="#p" x="1.51" y="1.62"/><use href="#p" x="1.89" y="1.39"/><use href="#p" x="1.38" y="1.43"/><use href="#p" x="1.25" y="1.78"/><use href="#p" x="1.02" y="1.77"/><use href="#p" x="1.10" y="2.27"/><use href="#p" x="1.34" y="1.63"/><use href="#p" x="1.48" y="1.97"/><use href="#p" x="1.61" y="1.34"/><use href="#p" x="1.79" y="1.37"/><use href="#p" x="1.93" y="1.79"/><use href="#p" x="1.18" y="2.56"/><use href="#p" x="1.36" y="2.52"/><use href="#p" x="1.55" y="2.16"/><use href="#p" x="1.06" y="2.63"/><use href="#p" x="1.22" y="1.59"/><use href="#p" x="1.44" y="1.52"/><use href="#p" x="1.69" y="2.12"/><use href="#p" x="1.87" y="2.02"/><use href="#p" x="2.00" y="1.66"/><use href="#p" x="2.08" y="1.47"/><use href="#p" x="1.13" y="1.50"/><use href="#p" x="1.27" y="1.41"/><use href="#p" x="1.03" y="1.42"/><use href="#p" x="1.17" y="1.97"/><use href="#p" x="1.39" y="1.88"/><use href="#p" x="1.51" y="1.71"/><use href="#p" x="1.64" y="1.92"/><use href="#p" x="1.81" y="1.82"/><use href="#p" x="2.16" y="1.84"/><use href="#p" x="2.22" y="1.40"/><use href="#p" x="1.96" y="2.13"/><use href="#p" x="1.08" y="1.88"/><use href="#p" x="1.32" y="2.05"/><use href="#p" x="1.12" y="2.43"/><use href="#p" x="1.47" y="2.25"/><use href="#p" x="1.73" y="2.33"/><use href="#p" x="2.06" y="2.38"/><use href="#p" x="1.26" y="2.68"/><use href="#p" x="1.54" y="2.60"/><use href="#p" x="1.86" y="2.53"/><use href="#p" x="1.16" y="1.64"/><use href="#p" x="1.36" y="1.77"/><use href="#p" x="1.05" y="1.53"/><use href="#p" x="1.21" y="1.33"/><use href="#p" x="2.35" y="1.62"/><use href="#p" x="2.45" y="1.45"/><use href="#p" x="2.12" y="1.55"/><use href="#p" x="2.60" y="1.52"/><use href="#p" x="2.20" y="2.00"/>
 </g>
</g>

<!-- Ticks -->
<g stroke="#333333" stroke-width="5.3">
  <line x1="237" y1="2062.5" x2="248" y2="2062.5"/>
  <line x1="237" y1="1581.7" x2="248" y2="1581.7"/>
  <line x1="237" y1="1100.9" x2="248" y2="1100.9"/>
  <line x1="237" y1="620.1" x2="248" y2="620.1"/>
  <line x1="759.3" y1="2143" x2="759.3" y2="2155"/>
  <line x1="1464.7" y1="2143" x2="1464.7" y2="2155"/>
  <line x1="2170.1" y1="2143" x2="2170.1" y2="2155"/>
</g>

<!-- Tick labels -->
<g font-size="48" fill="#4d4d4d" text-anchor="end">
  <text x="227" y="2097">0</text>
  <text x="227" y="1616.2">2</text>
  <text x="227" y="1135.4">4</text>
  <text x="227" y="654.6">6</text>
  <text x="757.5" y="2200">−5</text>
  <text x="1462.7" y="2200">0</text>
  <text x="2168" y="2200">5</text>
</g>

<!-- Axis titles -->
<text x="1506" y="2270" font-size="67" font-weight="bold" fill="#666666" text-anchor="middle">log2(Fold change)</text>
<text transform="translate(173,1252) rotate(-90)" font-size="67" font-weight="bold" fill="#666666" text-anchor="middle">-log10(pval)</text>
</svg>
</body>
</html>
